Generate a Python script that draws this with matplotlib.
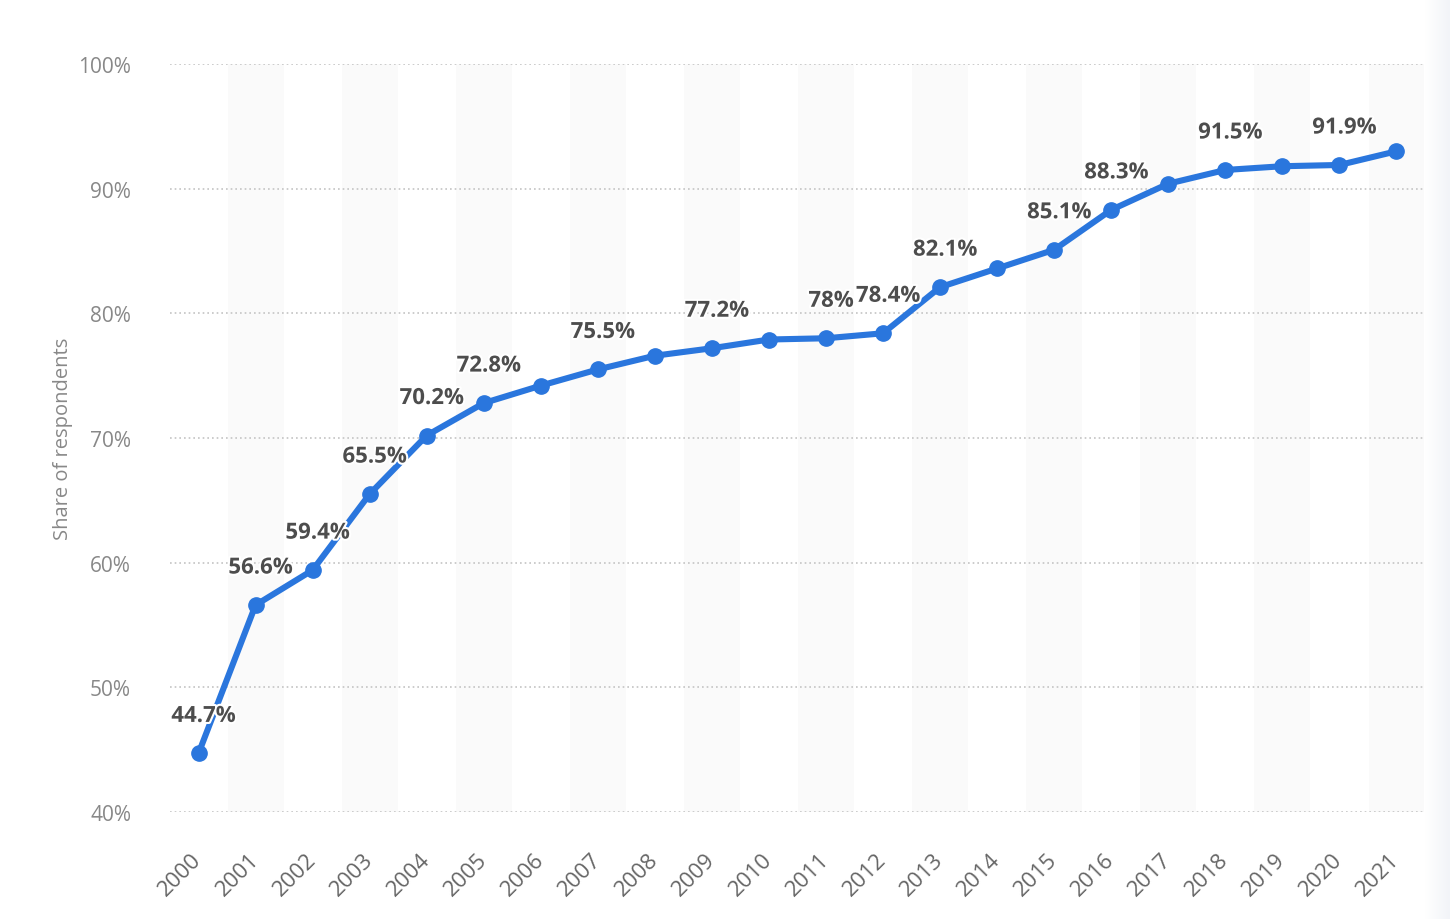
import numpy as np
import matplotlib
matplotlib.use("Agg")
import matplotlib.pyplot as plt
import matplotlib.patheffects as pe
from matplotlib.colors import LinearSegmentedColormap

years = [str(y) for y in range(2000, 2022)]
values = [44.7, 56.6, 59.4, 65.5, 70.2, 72.8, 74.2, 75.5, 76.6, 77.2, 77.9,
          78.0, 78.4, 82.1, 83.6, 85.1, 88.3, 90.4, 91.5, 91.8, 91.9, 93.0]
labels = ["44.7%", "56.6%", "59.4%", "65.5%", "70.2%", "72.8%", "", "75.5%", "",
          "77.2%", "", "78%", "78.4%", "82.1%", "", "85.1%", "88.3%", "", "91.5%",
          "", "91.9%", ""]
yticks = [40, 50, 60, 70, 80, 90, 100]
ytick_labels = ["40%", "50%", "60%", "70%", "80%", "90%", "100%"]
ylabel = "Share of respondents"

plt.rcParams['font.family'] = ['Open Sans', 'DejaVu Sans']

fig = plt.figure(figsize=(14.5, 9.2), dpi=100)
fig.patch.set_facecolor('white')

# right edge gradient
gax = fig.add_axes([1425/1450, 0, 25/1450, 1])
grad = np.linspace(0, 1, 50)[None, :]
cmap = LinearSegmentedColormap.from_list('g', ['#ffffff', '#f2f4f8'])
gax.imshow(grad, aspect='auto', cmap=cmap, extent=[0, 1, 0, 1])
gax.axis('off')

ax = fig.add_axes([170/1450, 1 - 813/920, 1255/1450, 748/920])
x = np.arange(len(years))

for i in range(1, len(years), 2):
    ax.axvspan(i - 0.49, i + 0.49, color='#fafafa', zorder=0, lw=0)

ax.set_xlim(-0.5, len(years) - 0.5)
ax.set_ylim(40, 100)
ax.set_yticks(yticks)
ax.set_yticklabels(ytick_labels)
ax.grid(axis='y', color='#c4c4c4', linestyle=(0, (1, 1.8)), linewidth=1.2, zorder=1)
ax.set_axisbelow(True)
for s in ax.spines.values():
    s.set_visible(False)

ax.plot(x, values, color='#2a76dd', linewidth=4.4, marker='o', markersize=11,
        zorder=3, solid_capstyle='round')

for xi, v, lab in zip(x, values, labels):
    if lab:
        ax.annotate(lab, (xi, v), xytext=(5, 37), textcoords='offset pixels',
                    ha='center', va='center', fontsize=16, fontweight='bold',
                    color='#4d4d4d', zorder=4,
                    path_effects=[pe.withStroke(linewidth=3, foreground='white')])

ax.set_xticks(x)
ax.set_xticklabels(years, rotation=45, ha='right', va='center',
                   rotation_mode='anchor', fontsize=16, color='#666666')
ax.tick_params(axis='x', length=0, pad=32)
ax.tick_params(axis='y', length=0, pad=28, labelsize=15, labelcolor='#888888')
ax.set_ylabel(ylabel, fontsize=14.5, color='#888888')
ax.yaxis.set_label_coords(-0.077, 0.5)

fig.savefig('out.png', dpi=100, facecolor='white')
